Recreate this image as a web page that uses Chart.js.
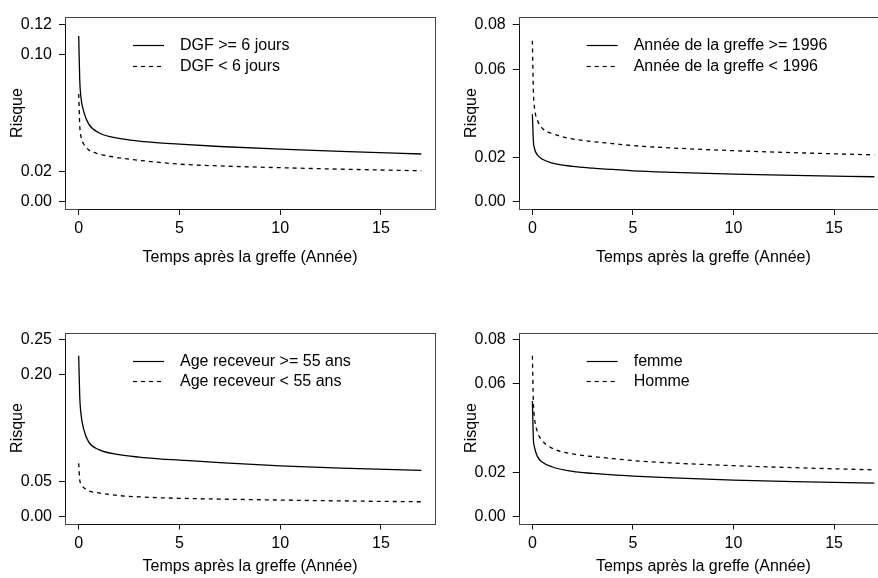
<!DOCTYPE html>
<html><head><meta charset="utf-8">
<script src="https://cdn.jsdelivr.net/npm/chart.js@4/dist/chart.umd.min.js"></script>
<style>
html,body{margin:0;padding:0;background:#fff;overflow:hidden;width:878px;height:578px;}
canvas{position:absolute;}
</style></head><body>
<canvas id="c1" width="439" height="289" style="left:0;top:0"></canvas>
<canvas id="c2" width="460" height="289" style="left:439px;top:0"></canvas>
<canvas id="c3" width="439" height="289" style="left:0;top:289px"></canvas>
<canvas id="c4" width="460" height="289" style="left:439px;top:289px"></canvas>
<script>
// Time points (years)
const times = [0, 0.05, 0.1, 0.25, 0.5, 1, 2, 3, 4, 5, 7, 10, 13, 17];

// Panel 1: DGF
const dgfHigh = [0.1125, 0.083, 0.072, 0.061, 0.0525, 0.0467, 0.0428, 0.0410, 0.0398, 0.0389, 0.0373, 0.0355, 0.0340, 0.0322];
const dgfLow  = [0.073, 0.052, 0.045, 0.039, 0.035, 0.0323, 0.0296, 0.0279, 0.0265, 0.0253, 0.0241, 0.0229, 0.0219, 0.0208];

// Panel 2: Année de la greffe
const yearHigh = [0.0396, 0.0275, 0.0242, 0.0212, 0.0192, 0.0175, 0.0160, 0.0152, 0.0146, 0.0140, 0.0133, 0.0125, 0.0119, 0.0113];
const yearLow  = [0.0729, 0.050, 0.0430, 0.0370, 0.0332, 0.0308, 0.0284, 0.0272, 0.0263, 0.0254, 0.0243, 0.0231, 0.0222, 0.0212];

// Panel 3: Age receveur
const ageHigh = [0.2269, 0.170, 0.148, 0.123, 0.105, 0.0945, 0.0875, 0.0840, 0.0816, 0.0798, 0.0762, 0.0716, 0.0684, 0.0654];
const ageLow  = [0.0752, 0.052, 0.047, 0.041, 0.0365, 0.0335, 0.0298, 0.0280, 0.0268, 0.0260, 0.0249, 0.0235, 0.0223, 0.0211];

// Panel 4: Sexe
const femme = [0.0522, 0.035, 0.0315, 0.0272, 0.0245, 0.0224, 0.0204, 0.0195, 0.0188, 0.0183, 0.0175, 0.0165, 0.0158, 0.0151];
const homme = [0.0726, 0.0519, 0.045, 0.0383, 0.0342, 0.0308, 0.0283, 0.0271, 0.0262, 0.0253, 0.0242, 0.0230, 0.0221, 0.0211];

// Tick labels
const xTicks = [0, 5, 10, 15];
const yTicks1 = [0, 0.02, 0.10, 0.12];
const yTicks2 = [0, 0.02, 0.06, 0.08];
const yTicks3 = [0, 0.05, 0.20, 0.25];
const yTicks4 = [0, 0.02, 0.06, 0.08];

// Texts
const xTitle = 'Temps après la greffe (Année)';
const yTitle = 'Risque';
const labels1 = ['DGF >= 6 jours', 'DGF < 6 jours'];
const labels2 = ['Année de la greffe >= 1996', 'Année de la greffe < 1996'];
const labels3 = ['Age receveur >= 55 ans', 'Age receveur < 55 ans'];
const labels4 = ['femme', 'Homme'];

const FONT = 'Liberation Sans, Arial, Helvetica, sans-serif';
const FS = 16;

const rPlot = {
  id: 'rPlot',
  afterDraw(chart, args, o) {
    const ctx = chart.ctx, a = chart.chartArea;
    const xs = chart.scales.x, ys = chart.scales.y;
    ctx.save();
    // box
    ctx.strokeStyle = '#444'; ctx.lineWidth = 1;
    const L = Math.round(a.left) + 0.5, T = Math.round(a.top) + 0.5;
    const R = Math.round(a.right) + 0.5, B = Math.round(a.bottom) + 0.5;
    ctx.strokeRect(L, T, R - L, B - T);
    // axis lines over tick range
    ctx.strokeStyle = '#111';
    ctx.beginPath();
    ctx.moveTo(L, ys.getPixelForValue(o.yt[0])); ctx.lineTo(L, ys.getPixelForValue(o.yt[o.yt.length - 1]));
    ctx.moveTo(xs.getPixelForValue(xTicks[0]), B); ctx.lineTo(xs.getPixelForValue(xTicks[xTicks.length - 1]), B);
    ctx.stroke();
    // titles
    ctx.fillStyle = '#000';
    ctx.font = FS + 'px ' + FONT;
    ctx.textAlign = 'center'; ctx.textBaseline = 'middle';
    ctx.fillText(xTitle, (a.left + a.right) / 2, a.bottom + o.xOff);
    ctx.save();
    ctx.translate(a.left - 47.5, (a.top + a.bottom) / 2);
    ctx.rotate(-Math.PI / 2);
    ctx.fillText(yTitle, 0, 0);
    ctx.restore();
    // legend
    const ds = chart.data.datasets;
    ds.forEach((d, i) => {
      const y = Math.round(a.top + 28 + i * 20.5) + 0.5;
      ctx.strokeStyle = '#000'; ctx.lineWidth = 1.2;
      ctx.setLineDash(d.borderDash || []);
      ctx.beginPath(); ctx.moveTo(a.left + 68, y); ctx.lineTo(a.left + 99, y); ctx.stroke();
      ctx.setLineDash([]);
      ctx.textAlign = 'left';
      ctx.fillText(d.label, a.left + 115, y);
    });
    ctx.restore();
  }
};

function make(id, labels, solid, dashed, yt, ymin, ymax, pad, yW, xOff) {
  const pts = v => times.map((t, i) => ({x: t, y: v[i]}));
  new Chart(document.getElementById(id), {
    type: 'line',
    data: {
      datasets: [
        {label: labels[0], data: pts(solid), borderColor: '#000', borderWidth: 1.3, pointRadius: 0, cubicInterpolationMode: 'monotone', fill: false},
        {label: labels[1], data: pts(dashed), borderColor: '#000', borderWidth: 1.3, borderDash: [4, 4], pointRadius: 0, cubicInterpolationMode: 'monotone', fill: false}
      ]
    },
    options: {
      responsive: false, animation: false, devicePixelRatio: 1,
      layout: {padding: pad},
      plugins: {legend: {display: false}, tooltip: {enabled: false}, rPlot: {yt: yt, xOff: xOff}},
      scales: {
        x: {
          type: 'linear', min: -0.68, max: 17.68,
          afterBuildTicks: s => { s.ticks = xTicks.map(v => ({value: v})); },
          afterFit: s => { s.height = 40; },
          grid: {display: true, drawOnChartArea: false, drawTicks: true, tickLength: 6, color: '#111', lineWidth: 1},
          border: {display: false},
          ticks: {autoSkip: false, maxRotation: 0, padding: 4, color: '#000', font: {family: FONT, size: FS}, callback: v => String(v)}
        },
        y: {
          type: 'linear', min: ymin, max: ymax,
          afterBuildTicks: s => { s.ticks = yt.map(v => ({value: v})); },
          afterFit: s => { s.width = yW; },
          grid: {display: true, drawOnChartArea: false, drawTicks: true, tickLength: 6, color: '#111', lineWidth: 1},
          border: {display: false},
          ticks: {autoSkip: false, padding: 7, color: '#000', font: {family: FONT, size: FS}, callback: v => Number(v).toFixed(2)}
        }
      }
    },
    plugins: [rPlot]
  });
}

make('c1', labels1, dgfHigh, dgfLow, yTicks1, -0.0052, 0.1254, {left: 0, top: 17, right: 4, bottom: 40}, 65, 49);
make('c2', labels2, yearHigh, yearLow, yTicks2, -0.0033, 0.0836, {left: 0, top: 17, right: 11, bottom: 40}, 79.7, 49);
make('c3', labels3, ageHigh, ageLow, yTicks3, -0.0095, 0.2595, {left: 0, top: 43.5, right: 4, bottom: 14.5}, 65, 43);
make('c4', labels4, femme, homme, yTicks4, -0.0031, 0.0831, {left: 0, top: 43.5, right: 11, bottom: 14.5}, 79.7, 43);
</script>
</body></html>
